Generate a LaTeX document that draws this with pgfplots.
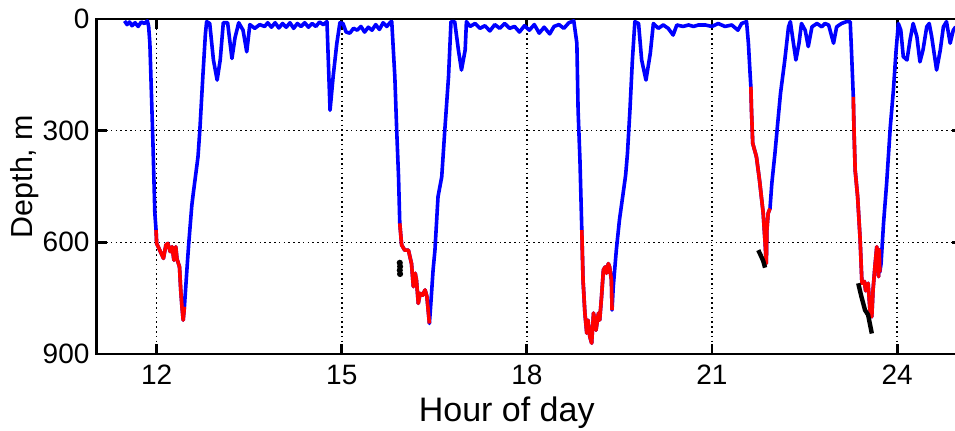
\documentclass[border=0pt]{standalone}
\usepackage{fontspec}
\setmainfont{Liberation Sans}
\usepackage{pgfplots}
\usepackage{pgfplotstable}
\pgfplotsset{compat=1.18}
\pgfplotstableread{
h d
11.48 5
11.52 15
11.56 8
11.60 18
11.65 10
11.70 20
11.75 8
11.80 12
11.85 5
11.87 20
11.89 65
11.94 334
11.97 520
11.99 567
12.00 603
12.05 621
12.11 643
12.15 607
12.18 603
12.22 625
12.25 612
12.28 648
12.31 612
12.33 645
12.37 666
12.39 728
12.41 773
12.43 809
12.45 773
12.49 674
12.52 603
12.57 500
12.60 460
12.67 370
12.70 298
12.75 150
12.79 40
12.81 7
12.86 12
12.92 110
12.98 164
13.03 110
13.08 10
13.15 10
13.22 106
13.27 50
13.33 10
13.40 30
13.46 88
13.51 15
13.59 25
13.67 15
13.75 20
13.80 10
13.86 22
13.92 10
13.98 24
14.04 12
14.10 22
14.16 10
14.22 25
14.28 12
14.34 20
14.40 10
14.46 22
14.52 12
14.58 20
14.64 8
14.70 15
14.76 7
14.81 245
14.86 155
14.92 65
14.97 10
15.02 12
15.07 35
15.13 38
15.19 25
15.25 30
15.31 20
15.37 35
15.43 22
15.49 30
15.55 15
15.61 28
15.67 10
15.73 20
15.79 8
15.81 7
15.86 155
15.89 298
15.92 424
15.94 549
15.97 607
16.02 621
16.08 621
16.13 657
16.16 719
16.19 683
16.21 701
16.24 764
16.27 737
16.31 742
16.35 728
16.38 746
16.40 782
16.42 818
16.44 773
16.48 674
16.51 621
16.56 477
16.62 424
16.67 298
16.73 155
16.77 7
16.83 7
16.89 83
16.94 137
17.00 83
17.02 7
17.08 20
17.16 12
17.24 25
17.32 18
17.40 32
17.48 15
17.56 25
17.64 12
17.72 25
17.80 20
17.88 35
17.96 18
18.04 30
18.12 15
18.20 38
18.28 22
18.37 40
18.44 20
18.52 15
18.60 25
18.68 10
18.76 5
18.81 65
18.83 245
18.86 379
18.89 567
18.91 701
18.94 790
18.97 844
18.99 809
19.02 854
19.05 871
19.08 790
19.12 836
19.16 790
19.18 809
19.21 746
19.24 674
19.27 666
19.29 683
19.32 657
19.34 666
19.37 701
19.38 782
19.40 719
19.45 620
19.50 540
19.56 468
19.60 420
19.63 361
19.67 245
19.71 110
19.75 7
19.81 12
19.86 110
19.93 164
20.00 92
20.05 12
20.13 25
20.21 16
20.29 25
20.37 43
20.43 16
20.53 20
20.62 16
20.70 20
20.78 16
20.89 16
21.00 20
21.10 12
21.21 20
21.32 16
21.42 30
21.48 12
21.56 7
21.59 65
21.62 155
21.63 182
21.64 245
21.66 334
21.72 370
21.77 433
21.83 522
21.86 600
21.88 657
21.89 567
21.91 522
21.94 509
21.97 441
22.02 361
22.07 271
22.11 200
22.18 110
22.24 21
22.27 7
22.32 65
22.36 110
22.41 65
22.45 12
22.51 30
22.56 74
22.62 21
22.70 12
22.78 21
22.83 12
22.89 16
22.97 65
23.02 21
23.10 12
23.18 7
23.24 7
23.26 83
23.29 209
23.30 289
23.32 406
23.36 477
23.40 590
23.43 710
23.47 705
23.49 730
23.53 710
23.56 782
23.59 800
23.61 728
23.64 666
23.67 612
23.70 692
23.71 620
23.72 680
23.74 657
23.78 549
23.83 442
23.89 289
23.94 191
23.98 92
24.02 12
24.06 30
24.10 101
24.16 110
24.21 56
24.26 12
24.32 47
24.37 115
24.42 83
24.48 21
24.52 12
24.56 47
24.64 137
24.70 83
24.75 21
24.80 7
24.86 65
24.91 30
24.95 21
}\bluetrack
\pgfplotstableread{
h d
11.99 567
12.00 603
12.05 621
12.11 643
12.15 607
12.18 603
12.22 625
12.25 612
12.28 648
12.31 612
12.33 645
12.37 666
12.39 728
12.41 773
12.43 809
12.45 773
}\redA
\pgfplotstableread{
h d
15.94 549
15.97 607
16.02 621
16.08 621
16.13 657
16.16 719
16.19 683
16.21 701
16.24 764
16.27 737
16.31 742
16.35 728
16.38 746
16.40 782
16.42 818
}\redB
\pgfplotstableread{
h d
18.89 567
18.91 701
18.94 790
18.97 844
18.99 809
19.02 854
19.05 871
19.08 790
19.12 836
19.16 790
19.18 809
19.21 746
19.24 674
19.27 666
19.29 683
19.32 657
19.34 666
19.37 701
19.38 782
}\redC
\pgfplotstableread{
h d
21.63 182
21.64 245
21.66 334
21.72 370
21.77 433
21.83 522
21.86 600
21.88 657
21.89 567
21.91 522
21.94 509
}\redD
\pgfplotstableread{
h d
23.29 209
23.30 289
23.32 406
23.36 477
23.40 590
23.43 710
23.47 705
23.49 730
23.53 710
23.56 782
23.59 800
23.61 728
23.64 666
23.67 612
23.70 692
23.71 620
23.72 680
}\redE
\begin{document}
\begin{tikzpicture}
\begin{axis}[
  scale only axis, width=432.7pt, height=167.5pt,
  xmin=11.025, xmax=25.05, ymin=0, ymax=900, y dir=reverse,
  xtick={12,15,18,21,24}, ytick={0,300,600,900},
  grid=major,
  major grid style={black, line width=0.8pt, dash pattern=on 0.8pt off 1.6pt},
  axis line style={line width=1.4pt},
  tick style={black, line width=1.4pt},
  major tick length=5pt,
  tick align=inside,
  /pgf/number format/assume math mode=true,
  tick label style={font=\fontsize{14}{16}\selectfont},
  xticklabel style={yshift=-2pt},
  xlabel={Hour of day},
  ylabel={Depth, m},
  every axis x label/.style={at={(axis description cs:0.474,-0.175)},anchor=center,font=\fontsize{17}{20}\selectfont},
  every axis y label/.style={at={(axis description cs:-0.0826,0.53)},rotate=90,anchor=center,font=\fontsize{15.2}{18}\selectfont},
]
\addplot[blue, line width=1.8pt, line join=round] table[x=h,y=d] {\bluetrack};
\addplot[red, line width=1.8pt, line join=round] table[x=h,y=d] {\redA};
\addplot[red, line width=1.8pt, line join=round] table[x=h,y=d] {\redB};
\addplot[red, line width=1.8pt, line join=round] table[x=h,y=d] {\redC};
\addplot[red, line width=1.8pt, line join=round] table[x=h,y=d] {\redD};
\addplot[red, line width=1.8pt, line join=round] table[x=h,y=d] {\redE};
\addplot[black, line width=1pt, mark=*, mark size=1pt] coordinates {(15.94,655) (15.945,665) (15.94,675) (15.945,685)};
\addplot[black, line width=2.2pt, line join=round] coordinates {(21.75,621) (21.79,635) (21.83,650) (21.86,668)};
\addplot[black, line width=2.2pt, line join=round] coordinates {(23.37,710) (23.42,745) (23.48,782) (23.53,795) (23.56,820) (23.59,845)};
\end{axis}
\pgfresetboundingbox
\path[use as bounding box] (-48.25pt,-38.5pt) rectangle (429.25pt,177pt);
\end{tikzpicture}
\end{document}
